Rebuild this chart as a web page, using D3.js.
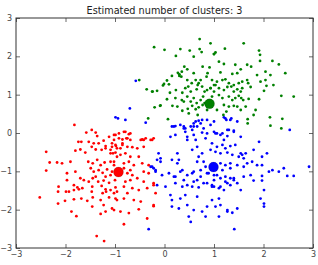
<!DOCTYPE html>
<html>
<head>
<meta charset="utf-8">
<script src="https://cdn.jsdelivr.net/npm/d3@7"></script>
<style>
  body { margin: 0; background: #fff; }
  svg { display: block; font-family: "DejaVu Sans", sans-serif; }
</style>
</head>
<body>
<svg id="chart" width="318" height="265"></svg>
<script>
const title = "Estimated number of clusters: 3";
const xTicks = [-3, -2, -1, 0, 1, 2, 3];
const yTicks = [-3, -2, -1, 0, 1, 2, 3];

// cluster 0 (blue), cluster 1 (green), cluster 2 (red)
const bluePoints = [
  [-0.99,0.41],[-0.94,0.38],[-0.79,0.34],[-0.38,0.27],[-0.70,0.64],[-0.58,1.36],
  [0.19,0.17],[0.22,0.18],[0.39,0.12],[0.42,0.03],[0.53,0.17],[0.56,0.08],
  [0.63,0.30],[0.69,0.32],[0.76,0.34],[0.86,0.34],[0.66,0.17],[0.79,0.12],[0.93,0.21],
  [0.76,0.01],[0.86,-0.01],[1.0,0.03],[1.0,0.30],[1.20,0.41],[1.25,0.34],[1.35,0.38],
  [1.47,0.30],[1.03,-0.01],[1.27,0.08],[1.40,0.03],[2.53,0.08],
  [0.15,0.17],[0.22,-0.05],[0.32,0.21],[0.42,0.12],[0.59,0.25],[0.46,-0.18],[0.63,-0.18],
  [-0.12,-0.53],[-0.15,-0.70],[-0.08,-0.75],[-0.28,-0.88],[-0.22,-0.92],[0.15,-0.70],
  [0.26,-0.53],[0.29,-0.70],[0.56,-0.44],[0.66,-0.36],[0.69,-0.62],[0.76,-0.53],
  [0.79,-0.75],[0.93,-0.44],
  [-0.18,-1.01],[-0.05,-1.10],[0.09,-1.05],[0.22,-1.14],[0.32,-1.01],[0.46,-1.10],
  [0.59,-1.01],[0.73,-1.14],[0.86,-1.05],[1.0,-1.10],
  [-0.15,-1.36],[0.02,-1.40],[0.22,-1.31],[0.36,-1.40],[0.46,-1.36],[0.59,-1.27],
  [0.69,-1.42],[0.86,-1.31],[0.96,-1.40],
  [0.12,-1.62],[0.15,-1.75],[0.32,-1.71],[0.42,-1.62],[0.66,-1.66],[0.15,-1.92],
  [0.29,-1.97],[0.46,-1.88],[0.59,-2.01],[0.86,-1.92],[0.76,-2.05],
  [0.49,-2.18],[0.53,-2.32],[0.83,-2.18],[-0.32,-2.51],
  [1.23,0.38],[1.33,0.34],[1.40,0.06],[1.54,-0.10],[1.06,-0.01],[1.13,-0.05],[1.27,-0.08],[1.20,-0.18],
  [0.96,-0.27],[1.06,-0.36],[1.17,-0.31],[1.23,-0.40],[1.33,-0.34],[1.43,-0.31],
  [1.03,-0.49],[1.13,-0.53],[1.27,-0.51],[1.37,-0.57],[1.50,-0.62],[1.54,-0.53],
  [1.57,-0.57],[1.60,-0.66],[1.64,-0.53],[1.80,-0.44],[1.91,-0.23],[1.97,-0.62],[2.07,-0.53],
  [1.13,-0.79],[1.23,-0.84],[1.33,-0.79],[1.47,-0.84],[1.60,-0.88],[1.67,-0.79],
  [1.77,-0.75],[1.87,-0.84],[1.97,-0.84],[2.11,-1.01],[2.18,-0.97],[2.31,-1.01],
  [2.41,-0.92],[2.48,-1.12],[2.61,-1.12],[2.92,-0.88],
  [1.0,-1.23],[1.13,-1.18],[1.23,-1.27],[1.33,-1.18],[1.40,-1.23],[1.47,-1.31],
  [1.60,-1.14],[1.74,-1.10],[1.97,-1.12],[1.0,-1.40],[1.10,-1.44],[1.20,-1.49],
  [1.33,-1.36],[1.54,-1.49],[1.80,-1.24],[1.97,-1.24],[2.01,-1.49],
  [0.96,-1.75],[1.10,-1.71],[1.13,-1.88],[1.03,-1.92],[1.27,-2.01],[1.37,-2.08],
  [1.47,-1.97],[1.94,-1.71],[2.01,-1.84],[2.01,-1.92],[1.10,-2.18],[1.27,-2.05],[1.41,-2.51],
  [-0.08,-0.66],[-0.25,-0.88],[-0.18,-0.97],
  [0.39,0.17],[0.59,0.17],[0.73,0.25],[0.46,-0.10],[0.12,-0.10],[0.59,-0.05],
  [1.17,-0.01],[1.30,0.08],[0.83,-0.14],
  [0.66,-0.75],[0.73,-0.97],[0.56,-1.05],[0.83,-0.88],[0.89,-1.05],[1.06,-1.10],
  [1.17,-0.97],[1.23,-1.14],[1.33,-0.92],[0.66,-1.23],[0.79,-1.31],[0.96,-1.36],
  [1.13,-1.40],[1.27,-1.31],[1.40,-1.18],[0.56,-1.40],[0.39,-1.23],[0.36,-0.97],
  [0.26,-0.79],[0.19,-1.14]
];

const greenPoints = [
  [0.71,2.45],[0.93,2.34],[-0.21,2.24],[0.0,2.17],[0.32,2.19],[0.51,2.15],[0.71,2.19],
  [0.75,2.11],[0.23,2.01],[0.59,1.99],[1.0,2.06],[0.40,1.73],[0.46,1.66],[0.35,1.60],
  [0.27,1.57],[0.30,1.53],[0.34,1.47],[0.30,1.49],[0.59,1.56],[0.77,1.73],[0.91,1.71],
  [0.87,1.56],[0.85,1.47],[0.15,1.49],[-0.51,1.38],[0.05,1.37],[-0.01,1.28],[-0.03,1.24],
  [0.09,1.27],[0.46,1.38],[0.55,1.30],[0.63,1.38],[0.69,1.30],[0.73,1.38],
  [-0.36,1.14],[-0.24,1.08],[-0.15,1.10],[0.11,1.05],[0.23,1.12],[0.36,1.05],[0.42,1.17],
  [0.48,1.21],[0.53,1.08],[0.65,1.14],[0.67,1.25],[0.76,1.21],[0.81,1.08],[0.86,1.12],
  [0.93,1.17],[1.0,1.25],
  [0.05,0.88],[0.22,0.91],[0.35,0.86],[0.39,0.82],[0.46,0.95],[0.53,0.82],[0.59,0.91],
  [0.65,0.78],[0.73,0.86],[0.78,0.95],[0.81,0.78],
  [-0.20,0.67],[-0.08,0.72],[0.16,0.71],[0.26,0.69],[0.36,0.58],[0.47,0.63],[0.56,0.71],
  [0.63,0.62],[0.69,0.67],[0.77,0.73],[0.86,0.60],[-0.09,0.71],
  [-0.33,0.38],[0.07,0.36],[0.49,0.51],[0.67,0.47],[-0.25,1.08],
  [1.60,2.34],[1.22,2.20],[1.0,2.06],[1.03,2.10],[1.91,2.15],[1.93,2.04],[1.10,1.86],
  [1.20,1.80],[1.43,1.78],[1.67,1.78],[1.75,1.73],[1.93,1.88],[2.18,1.88],[2.31,1.79],
  [1.54,1.66],[1.47,1.56],[1.37,1.54],[1.13,1.58],[2.04,1.60],[2.14,1.51],[2.44,1.56],[1.87,1.51],
  [0.96,1.38],[1.03,1.25],[1.06,1.34],[1.17,1.38],[1.23,1.40],[1.30,1.30],[1.40,1.25],
  [1.50,1.30],[1.57,1.34],[1.67,1.38],[1.69,1.30],[1.94,1.34],[2.04,1.38],[2.06,1.23],[2.20,1.25],
  [0.93,1.17],[1.0,1.08],[1.10,1.17],[1.20,1.12],[1.27,1.20],[1.35,1.21],[1.40,1.08],
  [1.47,1.14],[1.54,1.08],[1.57,1.17],[1.74,1.20],[2.01,1.10],
  [0.96,0.95],[1.10,0.99],[1.17,0.91],[1.30,0.95],[1.37,0.86],[1.43,0.91],[1.50,0.97],
  [1.55,0.91],[1.59,0.86],[1.70,0.89],[1.91,0.88],[2.36,0.97],[2.61,0.95],
  [1.20,0.73],[1.30,0.69],[1.40,0.71],[1.47,0.69],[1.54,0.60],[1.64,0.69],[1.84,0.60],
  [1.25,0.56],[1.06,0.60],[1.19,0.47],
  [1.68,0.36],[1.68,0.25],[1.80,0.47],[2.13,0.41],[2.14,0.19],[2.38,0.37],[2.36,0.12]
];

const redPoints = [
  [-1.82,0.21],[-1.58,0.01],[-1.47,0.08],[-1.39,0.01],[-1.36,-0.08],
  [-1.74,-0.23],[-1.68,-0.23],[-1.53,-0.23],[-1.43,-0.27],[-1.33,-0.27],[-1.23,-0.20],
  [-1.12,-0.10],[-0.99,-0.05],[-1.06,-0.27],[-0.98,-0.34],
  [-2.39,-0.49],[-1.80,-0.46],[-1.70,-0.43],[-1.60,-0.51],[-1.47,-0.36],[-1.39,-0.43],
  [-1.27,-0.44],[-1.19,-0.34],[-1.09,-0.53],[-0.99,-0.51],[-0.96,-0.62],
  [-2.32,-0.77],[-2.17,-0.77],[-2.07,-0.79],[-1.90,-0.75],[-1.54,-0.75],[-1.45,-0.79],
  [-1.36,-0.70],[-1.29,-0.84],[-1.21,-0.77],[-1.09,-0.75],[-1.02,-0.84],
  [-2.39,-0.98],[-1.97,-1.05],[-1.80,-1.01],[-1.49,-0.92],[-1.43,-1.01],[-1.33,-0.97],
  [-1.25,-1.04],[-1.16,-0.95],[-1.06,-1.01],[-1.39,-1.14],[-1.19,-1.14],[-1.09,-1.10],
  [-1.97,-1.23],[-1.70,-1.18],[-1.63,-1.23],[-1.53,-1.27],[-1.45,-1.18],[-1.34,-1.27],
  [-1.23,-1.24],[-1.12,-1.30],[-1.00,-1.23],
  [-2.14,-1.40],[-1.83,-1.36],[-1.76,-1.42],[-1.66,-1.44],[-1.46,-1.40],[-1.27,-1.38],
  [-1.19,-1.47],[-1.09,-1.49],[-0.99,-1.42],
  [-2.15,-1.53],[-1.99,-1.53],[-1.93,-1.53],[-1.83,-1.49],[-1.73,-1.47],[-1.47,-1.53],
  [-1.25,-1.57],[-1.18,-1.53],[-1.02,-1.57],
  [-2.52,-1.68],[-2.01,-1.77],[-1.83,-1.73],[-1.68,-1.71],[-1.56,-1.77],[-1.45,-1.68],
  [-1.29,-1.75],[-1.12,-1.68],[-0.99,-1.71],[-1.23,-1.88],
  [-2.15,-1.84],[-1.88,-2.05],[-1.78,-2.17],[-1.46,-1.92],[-1.29,-2.11],[-1.19,-2.05],[-1.02,-2.01],
  [-1.37,-2.69],[-1.22,-2.82],
  [-0.79,0.03],[-0.69,-0.01],[-0.75,-0.14],[-0.85,-0.27],[-0.48,-0.18],[-0.42,-0.18],
  [-0.25,-0.18],[-0.22,-0.14],[-1.02,-0.18],[-0.92,-0.14],[-0.99,-0.31],[-0.89,-0.40],
  [-1.09,-0.44],[-1.19,-0.40],
  [-1.02,-0.05],[-0.92,-0.01],[-0.82,0.03],[-0.72,-0.03],[-0.85,-0.17],[-0.77,-0.14],
  [-0.69,-0.18],[-0.45,-0.17],[-0.38,-0.14],[-0.28,-0.18],
  [-1.06,-0.36],[-0.96,-0.40],[-0.85,-0.31],[-0.75,-0.36],[-0.65,-0.37],[-0.55,-0.40],
  [-0.42,-0.36],[-1.04,-0.53],[-0.89,-0.57],[-0.79,-0.53],[-0.69,-0.62],[-0.52,-0.62],
  [-1.02,-0.75],[-0.82,-0.79],[-0.72,-0.75],[-0.62,-0.84],[-0.45,-0.79],[-0.32,-0.84],
  [-0.82,-0.92],[-0.69,-0.97],[-0.75,-1.05],[-0.65,-1.10],[-0.42,-1.01],[-0.32,-1.05],
  [-0.79,-1.27],[-0.69,-1.23],[-0.55,-1.18],[-0.42,-1.27],[-0.22,-1.31],[-0.82,-1.40],
  [-0.65,-1.44],[-0.52,-1.49],[-0.35,-1.44],[-0.96,-1.53],[-0.75,-1.57],
  [-0.96,-1.75],[-0.82,-1.71],[-0.62,-1.75],[-0.48,-1.79],[-0.22,-1.88],[-1.06,-1.97],
  [-0.89,-2.05],[-0.72,-2.09],[-0.52,-1.99],[-0.35,-2.23],[-0.82,-2.38],
  [-0.22,-1.36],[-0.18,-1.57],[-0.22,-1.91]
];

const clusterCenters = [[0.99, -0.89], [0.91, 0.76], [-0.93, -1.02]];
const clusterColors = ["#0000ff", "#008000", "#ff0000"];
const clusterPoints = [bluePoints, greenPoints, redPoints];

const svg = d3.select("#chart");
const margin = { top: 18, right: 5, bottom: 17, left: 16 };
const width = +svg.attr("width") - margin.left - margin.right;
const height = +svg.attr("height") - margin.top - margin.bottom;

const g = svg.append("g").attr("transform", `translate(${margin.left},${margin.top})`);

const x = d3.scaleLinear().domain([-3, 3]).range([0, width]);
const y = d3.scaleLinear().domain([-3, 3]).range([height, 0]);

const fmt = d => d < 0 ? "\u2212" + Math.abs(d) : String(d);

// points
clusterPoints.forEach((pts, k) => {
  g.append("g").selectAll("circle")
    .data(pts)
    .enter()
    .append("circle")
    .attr("cx", d => x(d[0]))
    .attr("cy", d => y(d[1]))
    .attr("r", 1.4)
    .attr("fill", clusterColors[k]);
});

// centers
g.append("g").selectAll("circle")
  .data(clusterCenters)
  .enter()
  .append("circle")
  .attr("cx", d => x(d[0]))
  .attr("cy", d => y(d[1]))
  .attr("r", 5)
  .attr("fill", (d, i) => clusterColors[i])
  .attr("stroke", "#000")
  .attr("stroke-opacity", 0.25)
  .attr("stroke-width", 0.5);

// axes with inward ticks on all four sides
const styleAxis = sel => {
  sel.select(".domain").remove();
  sel.selectAll("line").attr("stroke", "#444").attr("stroke-width", 0.8);
  sel.selectAll("text").attr("fill", "#444").style("font-size", "8px")
    .style("font-family", "DejaVu Sans, sans-serif");
};

g.append("g")
  .attr("transform", `translate(0,${height})`)
  .call(d3.axisBottom(x).tickValues(xTicks).tickFormat(fmt).tickSizeInner(-4).tickSizeOuter(0).tickPadding(3))
  .call(styleAxis);
g.append("g")
  .call(d3.axisTop(x).tickValues(xTicks).tickFormat("").tickSizeInner(-4).tickSizeOuter(0))
  .call(styleAxis);
g.append("g")
  .call(d3.axisLeft(y).tickValues(yTicks).tickFormat(fmt).tickSizeInner(-4).tickSizeOuter(0).tickPadding(4))
  .call(styleAxis);
g.append("g")
  .attr("transform", `translate(${width},0)`)
  .call(d3.axisRight(y).tickValues(yTicks).tickFormat("").tickSizeInner(-4).tickSizeOuter(0))
  .call(styleAxis);

g.append("rect")
  .attr("width", width)
  .attr("height", height)
  .attr("fill", "none")
  .attr("stroke", "#333")
  .attr("stroke-width", 1);

svg.append("text")
  .attr("x", margin.left + width / 2)
  .attr("y", 14)
  .attr("text-anchor", "middle")
  .style("font-size", "9.7px")
  .attr("fill", "#222")
  .text(title);
</script>
</body>
</html>
